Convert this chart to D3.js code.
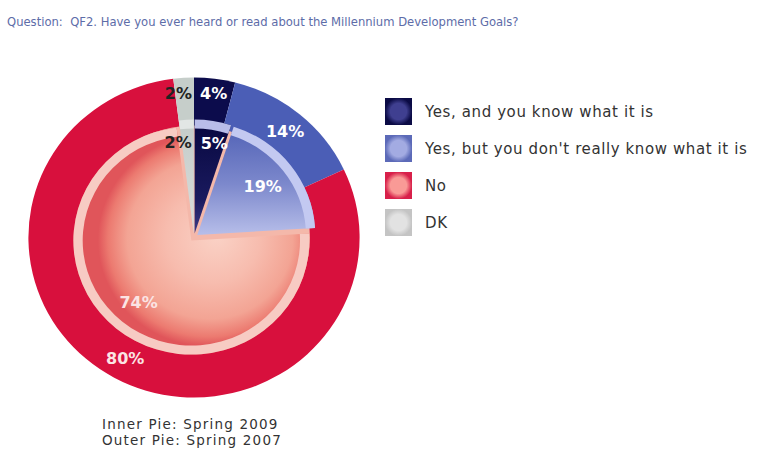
<!DOCTYPE html>
<html>
<head>
<meta charset="utf-8">
<script src="https://cdn.jsdelivr.net/npm/d3@7"></script>
<style>
  html, body { margin: 0; padding: 0; background: #ffffff; }
  svg { display: block; }
  text { font-family: "DejaVu Sans", Verdana, sans-serif; }
</style>
</head>
<body>
<svg id="chart" width="763" height="460"></svg>
<script>
// Survey answers, one entry per category
const categories = [
  "Yes, and you know what it is",
  "Yes, but you don't really know what it is",
  "No",
  "DK"
];
const spring2007 = [4, 14, 80, 2];   // outer ring
const spring2009 = [5, 19, 74, 2];   // inner pie
const titleText = "Question:  QF2. Have you ever heard or read about the Millennium Development Goals?";
const footnotes = ["Inner Pie: Spring 2009", "Outer Pie: Spring 2007"];

// Styling
const outerColors = ["#0c0c4c", "#4b5eb6", "#d8103d", "#c6ceca"];
const rimColors   = ["#b9bde9", "#c3c9f1", "#f7cbc3", "#e2e6e5"];
const cx = 194, cy = 237.5, sx = 1.035;
const R_OUT = 160, R_IN = 114, RIM = 9, EXPLODE = 4;

const svg = d3.select("#chart");
const defs = svg.append("defs");

// gradients for the inner slices
function linGrad(id, stops, x1, y1, x2, y2) {
  const g = defs.append("linearGradient").attr("id", id)
    .attr("gradientUnits", "userSpaceOnUse")
    .attr("x1", x1).attr("y1", y1).attr("x2", x2).attr("y2", y2);
  stops.forEach(([o, c]) => g.append("stop").attr("offset", o).attr("stop-color", c));
}
linGrad("gNavy", [[0, "#07073f"], [0.7, "#1a1a5e"], [1, "#3c3c86"]], 0, -R_IN, 0, 0);
linGrad("gBlue", [[0, "#4e5fb4"], [0.55, "#7c88cc"], [1, "#b7bee9"]], 0, -R_IN, 0, 0);
linGrad("gGray", [[0, "#c4cbc8"], [1, "#d9dedc"]], 0, -R_IN, 0, 0);
const rg = defs.append("radialGradient").attr("id", "gPink")
  .attr("gradientUnits", "userSpaceOnUse")
  .attr("cx", 15).attr("cy", 0).attr("r", R_IN)
  .attr("fx", 25).attr("fy", -5);
[[0, "#fad2c6"], [0.4, "#f7bcae"], [0.7, "#f3a494"], [0.85, "#ec7a70"], [0.93, "#e0555a"], [1, "#e0555a"]]
  .forEach(([o, c]) => rg.append("stop").attr("offset", o).attr("stop-color", c));
const innerFills = ["url(#gNavy)", "url(#gBlue)", "url(#gPink)", "url(#gGray)"];

// legend gradients
const legendFill = [
  ["#0b0b45", "#3f3f90"],
  ["#5c6ab8", "#a3abe2"],
  ["#d8204a", "#f99a96"],
  ["#c4c4c4", "#e2e2e2"]
];
legendFill.forEach(([edge, mid], i) => {
  const g = defs.append("radialGradient").attr("id", "lg" + i);
  g.append("stop").attr("offset", 0).attr("stop-color", mid);
  g.append("stop").attr("offset", 0.6).attr("stop-color", mid);
  g.append("stop").attr("offset", 1).attr("stop-color", edge);
});

const pie = d3.pie().sort(null).value(d => d);

// Title
svg.append("text")
  .attr("x", 7).attr("y", 26)
  .attr("font-size", 11.6)
  .attr("fill", "#5d6ca8")
  .style("white-space", "pre")
  .text(titleText);

// Outer pie (Spring 2007)
const chart = svg.append("g").attr("transform", `translate(${cx},${cy}) scale(${sx},1)`);
const outerArc = d3.arc().innerRadius(0).outerRadius(R_OUT);
const outerData = pie(spring2007);
chart.append("g").selectAll("path")
  .data(outerData)
  .join("path")
  .attr("d", outerArc)
  .attr("fill", (d, i) => outerColors[i]);

// soft underlay so the gaps between pulled-out slices stay pale
chart.append("circle").attr("r", R_IN - 2).attr("fill", "#f4b8aa");

// Inner pie (Spring 2009), slices pulled slightly apart
const innerArc = d3.arc().innerRadius(0).outerRadius(R_IN);
const rimArc = d3.arc().innerRadius(R_IN - RIM).outerRadius(R_IN);
const innerData = pie(spring2009);
const offset = d => {
  const a = (d.startAngle + d.endAngle) / 2;
  return [EXPLODE * Math.sin(a), -EXPLODE * Math.cos(a)];
};
const slices = chart.append("g").selectAll("g")
  .data(innerData)
  .join("g")
  .attr("transform", d => `translate(${offset(d)})`);
// pink slice first so the blue ones sit on top
slices.sort((a, b) => (a.index === 2 ? -1 : b.index === 2 ? 1 : 0));
slices.append("path").attr("d", innerArc).attr("fill", d => innerFills[d.index]);
slices.append("path").attr("d", rimArc).attr("fill", d => rimColors[d.index]);

// Labels (drawn unscaled)
const labels = svg.append("g").attr("transform", `translate(${cx},${cy})`)
  .attr("font-size", 16).attr("font-weight", "bold");

function placeLabels(data, radius, small, base) {
  data.forEach(d => {
    const [ox, oy] = base(d);
    const a = (d.startAngle + d.endAngle) / 2;
    const isSmall = d.data < 6;
    let x, y, anchor = "middle";
    const r = isSmall ? small : radius;
    y = oy - r * Math.cos(a);
    if (isSmall) {
      x = ox * sx + (a < Math.PI ? 6 : -2);
      anchor = a < Math.PI ? "start" : "end";
    } else {
      x = (ox + r * Math.sin(a)) * sx;
    }
    labels.append("text")
      .attr("x", x).attr("y", y)
      .attr("dy", "0.36em")
      .attr("text-anchor", anchor)
      .attr("fill", d.index === 3 ? "#222222" : (d.index === 2 ? "#fbe4e4" : "#ffffff"))
      .text(d.data + "%");
  });
}
placeLabels(outerData, 138, 145, () => [0, 0]);
placeLabels(innerData, 80, 91, d => offset(d));

// Legend
const legend = svg.append("g");
const ly = d3.scaleBand().domain(categories).range([98, 98 + 37 * categories.length]).paddingInner(0);
const items = legend.selectAll("g").data(categories).join("g")
  .attr("transform", d => `translate(385,${ly(d)})`);
items.append("rect")
  .attr("width", 27).attr("height", 27)
  .attr("fill", (d, i) => `url(#lg${i})`);
items.append("text")
  .attr("x", 40).attr("y", 19)
  .attr("font-size", 15)
  .attr("letter-spacing", 0.6)
  .attr("fill", "#333333")
  .text(d => d);

// Footnotes
svg.append("g").selectAll("text").data(footnotes).join("text")
  .attr("x", 102).attr("y", (d, i) => 429 + i * 15.5)
  .attr("font-size", 13.5)
  .attr("letter-spacing", 1.2)
  .attr("fill", "#333333")
  .text(d => d);
</script>
</body>
</html>
